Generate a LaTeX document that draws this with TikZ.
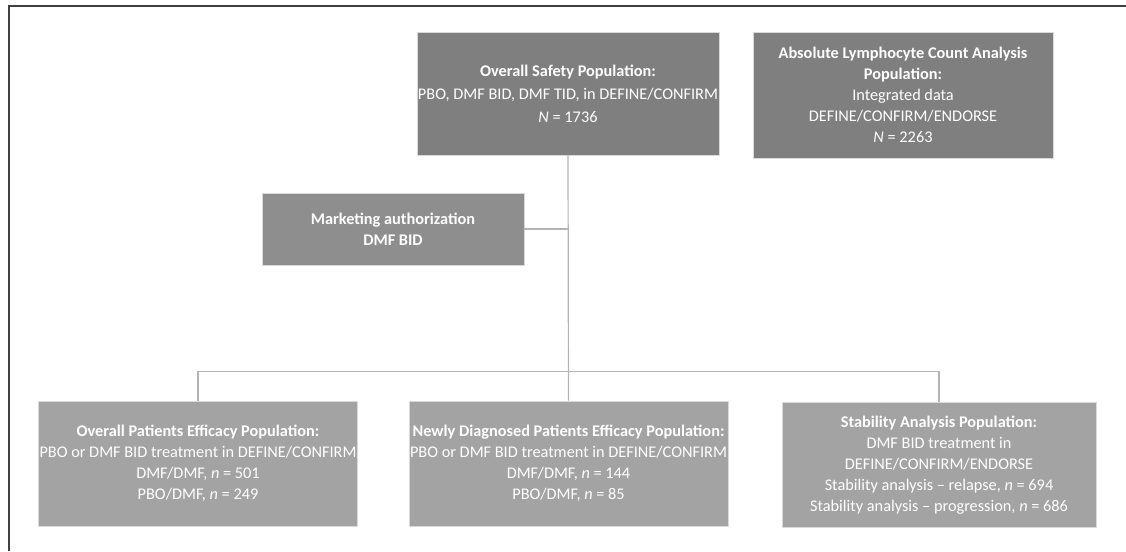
\documentclass[tikz,border=0pt]{standalone}
\usepackage{fontspec}
\setmainfont{Carlito}
\usepackage{tikz}

\definecolor{darkfill}{HTML}{7F7F7F}
\definecolor{midfill}{HTML}{8E8E8E}
\definecolor{lightfill}{HTML}{A3A3A3}
\definecolor{linkgray}{HTML}{B4B4B4}

\tikzset{
  popbox/.style={draw=white!85!black, line width=0.6pt, text=white, align=center,
    inner sep=1pt, font=\fontsize{16.3}{21}\selectfont},
  darkbox/.style={popbox, fill=darkfill},
  midbox/.style={popbox, fill=midfill},
  lightbox/.style={popbox, fill=lightfill},
  link/.style={draw=linkgray, line width=1.2pt}
}

\begin{document}
\begin{tikzpicture}[x=1pt,y=-1pt]
    \useasboundingbox (0,0) rectangle (1126,551);
    \draw[line width=1.6pt, black!75] (9,551) -- (9,6) -- (1126,6);

    \node[darkbox, minimum width=298pt, minimum height=123pt,
          font=\fontsize{16.3}{23}\selectfont] (safety) at (568,93.5)
      {\textbf{Overall Safety Population:}\\
       PBO, DMF BID, DMF TID, in DEFINE/CONFIRM\\
       \textit{N} = 1736};
    \node[darkbox, minimum width=300pt, minimum height=126pt] (alc) at (903,95)
      {\textbf{Absolute Lymphocyte Count Analysis}\\
       \textbf{Population:}\\
       Integrated data\\
       DEFINE/CONFIRM/ENDORSE\\
       \textit{N} = 2263};
    \node[midbox, minimum width=262pt, minimum height=72pt] (market) at (393,229)
      {\textbf{Marketing authorization}\\ \textbf{DMF BID}};

    \node[lightbox, minimum width=314pt, minimum height=125pt] (eff) at (198,463.5)
      {\textbf{Overall Patients Efficacy Population:}\\
       PBO or DMF BID treatment in DEFINE/CONFIRM\\
       DMF/DMF, \textit{n} = 501\\
       PBO/DMF, \textit{n} = 249};
    \node[lightbox, minimum width=315pt, minimum height=125pt] (newdx) at (568.5,463.5)
      {\textbf{Newly Diagnosed Patients Efficacy Population:}\\
       PBO or DMF BID treatment in DEFINE/CONFIRM\\
       DMF/DMF, \textit{n} = 144\\
       PBO/DMF, \textit{n} = 85};
    \node[lightbox, minimum width=314pt, minimum height=125pt] (stab) at (939,465)
      {\textbf{Stability Analysis Population:}\\
       DMF BID treatment in\\
       DEFINE/CONFIRM/ENDORSE\\
       Stability analysis -- relapse, \textit{n} = 694\\
       Stability analysis -- progression, \textit{n} = 686};

    \draw[link] (safety.south) -- (newdx.north);
    \draw[link] (market.east) -- (market.east -| safety.south);
    \draw[link] (eff.north) -- ++(0,-29) -| (stab.north);
  \end{tikzpicture}
\end{document}
